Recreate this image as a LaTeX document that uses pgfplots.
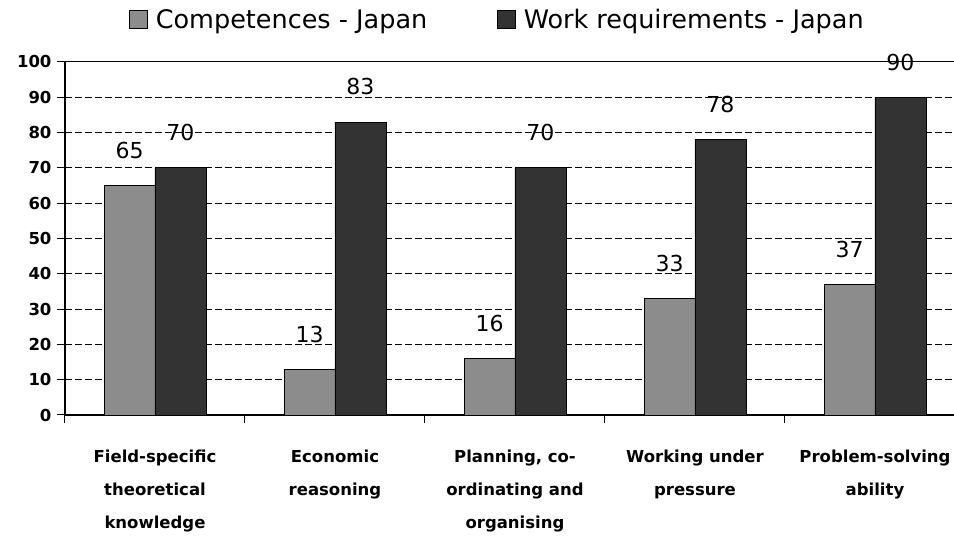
\documentclass[border=0pt]{standalone}
\usepackage{fontspec}
\setmainfont{DejaVu Sans}
\usepackage{pgfplots}
\pgfplotsset{compat=1.18}
\definecolor{compgray}{HTML}{8C8C8C}
\definecolor{workdark}{HTML}{333333}

\begin{document}
\begin{tikzpicture}
\begin{axis}[
  name=ax,
  scale only axis,
  width=889pt, height=353pt,
  ymin=0, ymax=100,
  xmin=-0.5, xmax=4.439,
  ybar=0pt, bar width=0.283,
  axis lines=left,
  axis line style={-, line width=1.2pt},
  clip=false,
  /pgf/number format/assume math mode=true,
  % y axis
  ytick={0,10,...,90},
  extra y ticks={100},
  extra y tick style={major grid style={solid, black, line width=1pt}},
  ymajorgrids,
  major grid style={black, line width=0.9pt, dash pattern=on 7pt off 3pt},
  tick align=outside,
  major tick length=8pt,
  tick style={black, line width=1pt},
  y tick label style={font=\bfseries\fontsize{16.5}{18}\selectfont, xshift=-2pt},
  % x axis: boundary ticks, names as extra ticks
  xtick={-0.5,0.5,...,3.5},
  xticklabels={},
  extra x ticks={0,1,2,3,4},
  extra x tick labels={{Field-specific\\theoretical\\knowledge},
                       {Economic\\reasoning},
                       {Planning, co-\\ordinating and\\organising},
                       {Working under\\pressure},
                       {Problem-solving\\ability}},
  extra x tick style={major tick length=0pt},
  x tick label style={font=\bfseries\fontsize{16.5}{33}\selectfont, align=center, anchor=north, yshift=-31pt},
  % values above bars
  nodes near coords,
  every node near coord/.append style={font=\fontsize{22}{24}\selectfont, yshift=23pt, black},
  % legend
  legend columns=2,
  legend style={at={(0.5,1)}, anchor=center, xshift=-12pt, yshift=42pt, draw=none,
    font=\fontsize{25.5}{28}\selectfont,
    /tikz/every even column/.append style={column sep=68pt}},
  legend image code/.code={\draw[#1, draw=black, line width=1pt] (0pt,-9pt) rectangle (18pt,9pt);
    \path[draw=none, fill=none] (0pt,0pt) -- (24pt,0pt);},
]
\addplot[fill=compgray, draw=black, line width=0.8pt] coordinates {(0,65) (1,13) (2,16) (3,33) (4,37)};
\addplot[fill=workdark, draw=black, line width=0.8pt] coordinates {(0,70) (1,83) (2,70) (3,78) (4,90)};
\legend{Competences - Japan, Work requirements - Japan}
\end{axis}
\pgfresetboundingbox
\path (-65pt,-122pt) rectangle (889pt,415pt);
\end{tikzpicture}
\end{document}
